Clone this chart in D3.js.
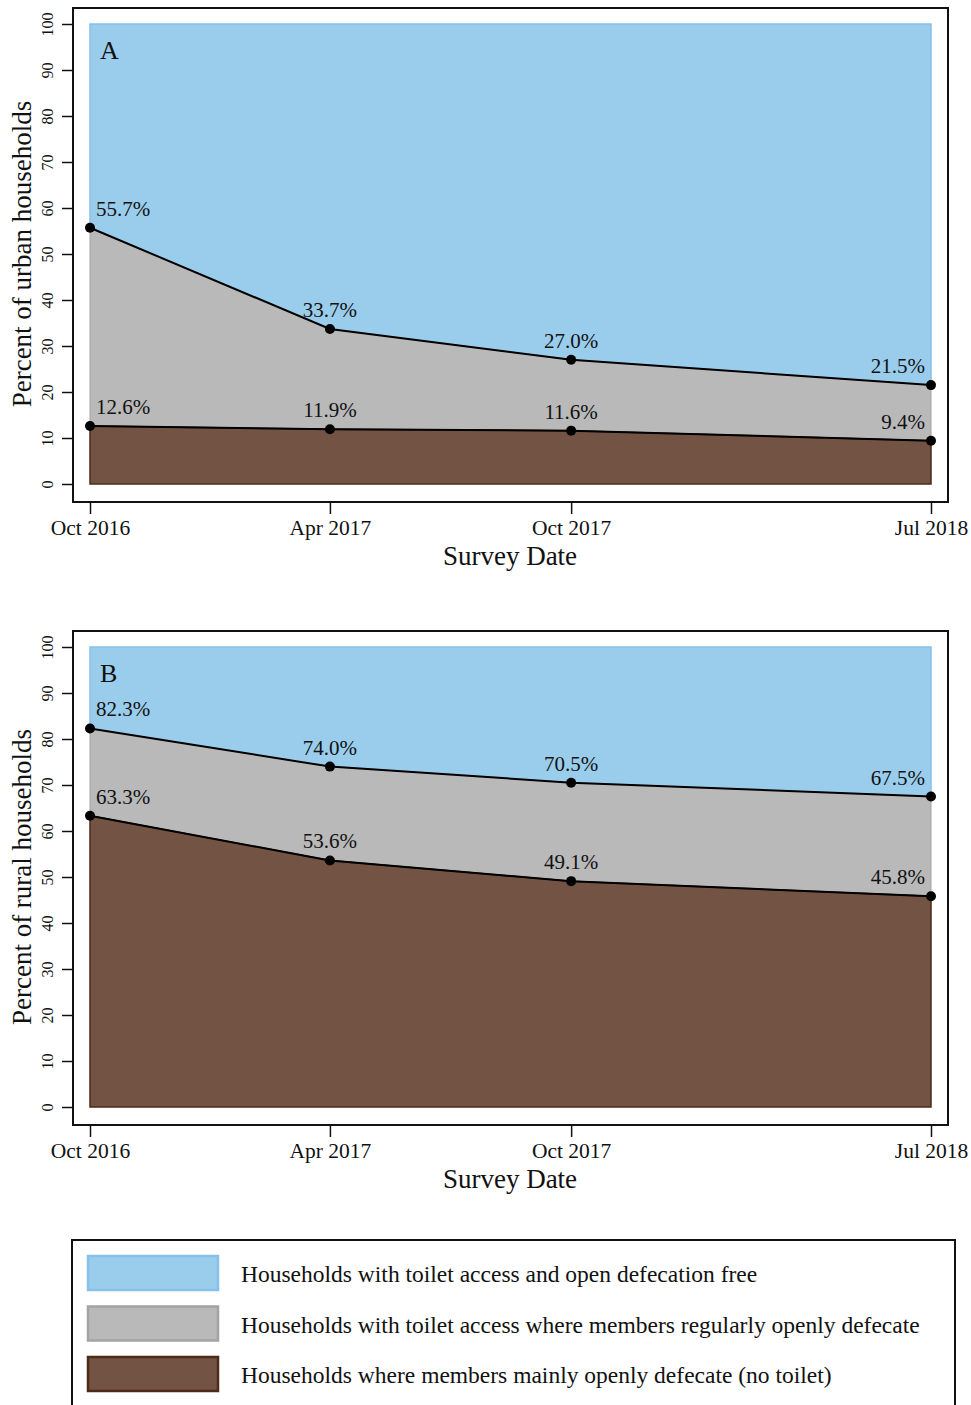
<!DOCTYPE html>
<html>
<head>
<meta charset="utf-8">
<script src="https://cdn.jsdelivr.net/npm/d3@7"></script>
<style>
  body { margin: 0; background: #fff; }
  svg text { font-family: "Liberation Serif", "Times New Roman", serif; fill: #111; }
</style>
</head>
<body>
<svg id="chart" width="971" height="1405"></svg>
<script>
// survey rounds
let surveyDates = ["2016-10-01", "2017-04-01", "2017-10-01", "2018-07-01"];
let dateLabels = ["Oct 2016", "Apr 2017", "Oct 2017", "Jul 2018"];
let yTicks = [0, 10, 20, 30, 40, 50, 60, 70, 80, 90, 100];

// urban: upper line = with toilet but open defecation + no toilet, lower = no toilet
let urbanUpper = [55.7, 33.7, 27.0, 21.5];
let urbanLower = [12.6, 11.9, 11.6, 9.4];
// rural
let ruralUpper = [82.3, 74.0, 70.5, 67.5];
let ruralLower = [63.3, 53.6, 49.1, 45.8];

let legendLabels = [
  "Households with toilet access and open defecation free",
  "Households with toilet access where members regularly openly defecate",
  "Households where members mainly openly defecate (no toilet)"
];
let fills = ["#9acdec", "#b9b9b9", "#735343"];
let strokes = ["#86c1ea", "#a3a3a3", "#4e2a18"];

let parse = d3.timeParse("%Y-%m-%d");
let dates = surveyDates.map(parse);

let svg = d3.select("#chart");

let x = d3.scaleTime()
  .domain([dates[0], dates[dates.length - 1]])
  .range([90, 931]);

function draw_panel(top, letter, ylabel, upper, lower) {
  let g = svg.append("g").attr("transform", "translate(0," + top + ")");
  let y = d3.scaleLinear().domain([0, 100]).range([476, 16]);

  // frame
  g.append("rect")
    .attr("x", 73).attr("y", 0)
    .attr("width", 875).attr("height", 494)
    .attr("fill", "none").attr("stroke", "#111").attr("stroke-width", 2);

  let rows = dates.map(function(d, i) {
    return { date: d, up: upper[i], low: lower[i] };
  });

  let areaTop = d3.area().x(d => x(d.date)).y0(d => y(d.up)).y1(() => y(100));
  let areaMid = d3.area().x(d => x(d.date)).y0(d => y(d.low)).y1(d => y(d.up));
  let areaLow = d3.area().x(d => x(d.date)).y0(() => y(0)).y1(d => y(d.low));

  g.append("path").datum(rows).attr("d", areaTop)
    .attr("fill", fills[0]).attr("stroke", strokes[0]).attr("stroke-width", 1.5);
  g.append("path").datum(rows).attr("d", areaMid)
    .attr("fill", fills[1]).attr("stroke", strokes[1]).attr("stroke-width", 1);
  g.append("path").datum(rows).attr("d", areaLow)
    .attr("fill", fills[2]).attr("stroke", strokes[2]).attr("stroke-width", 1.5);

  let line = d3.line().x(d => x(d.date));
  g.append("path").datum(rows).attr("d", line.y(d => y(d.up)))
    .attr("fill", "none").attr("stroke", "#000").attr("stroke-width", 2);
  g.append("path").datum(rows).attr("d", line.y(d => y(d.low)))
    .attr("fill", "none").attr("stroke", "#000").attr("stroke-width", 2);

  // points and value labels
  ["up", "low"].forEach(function(key) {
    g.selectAll(".pt-" + key).data(rows).enter()
      .append("circle")
      .attr("cx", d => x(d.date)).attr("cy", d => y(d[key]))
      .attr("r", 5).attr("fill", "#000");
    g.selectAll(".lab-" + key).data(rows).enter()
      .append("text")
      .attr("x", function(d, i) {
        if (i == 0) return x(d.date) + 6;
        if (i == rows.length - 1) return x(d.date) - 6;
        return x(d.date);
      })
      .attr("y", d => y(d[key]) - 12)
      .attr("text-anchor", function(d, i) {
        if (i == 0) return "start";
        if (i == rows.length - 1) return "end";
        return "middle";
      })
      .style("font-size", "21px")
      .text(d => d[key].toFixed(1) + "%");
  });

  // panel letter
  g.append("text").attr("x", 100).attr("y", 51)
    .style("font-size", "26px").text(letter);

  // y axis
  let yAxis = g.append("g").attr("transform", "translate(73,0)")
    .call(d3.axisLeft(y).tickValues(yTicks).tickSize(11).tickPadding(0));
  yAxis.select(".domain").remove();
  yAxis.selectAll("line").attr("stroke", "#111").attr("stroke-width", 1.5);
  yAxis.selectAll("text")
    .attr("x", 0).attr("y", -26).attr("dy", 0)
    .attr("transform", "rotate(-90)")
    .attr("text-anchor", "middle")
    .attr("dominant-baseline", "central")
    .style("font-size", "16px")
    .style("font-family", "Liberation Serif, serif");

  // x axis
  let xAxis = g.append("g").attr("transform", "translate(0,494)")
    .call(d3.axisBottom(x).tickValues(dates).tickSize(12).tickPadding(6)
      .tickFormat((d, i) => dateLabels[i]));
  xAxis.select(".domain").remove();
  xAxis.selectAll("line").attr("stroke", "#111").attr("stroke-width", 1.5);
  xAxis.selectAll("text")
    .style("font-size", "21.5px")
    .style("font-family", "Liberation Serif, serif")
    .attr("fill", "#111");

  g.append("text")
    .attr("x", 510).attr("y", 557)
    .attr("text-anchor", "middle")
    .style("font-size", "27px")
    .text("Survey Date");

  g.append("text")
    .attr("transform", "translate(31," + y(50) + ") rotate(-90)")
    .attr("text-anchor", "middle")
    .style("font-size", "27px")
    .text(ylabel);
}

draw_panel(8, "A", "Percent of urban households", urbanUpper, urbanLower);
draw_panel(631, "B", "Percent of rural households", ruralUpper, ruralLower);

// legend
let leg = svg.append("g");
leg.append("rect")
  .attr("x", 72).attr("y", 1240).attr("width", 883).attr("height", 200)
  .attr("fill", "none").attr("stroke", "#111").attr("stroke-width", 2);

let legY = d3.scalePoint().domain(d3.range(legendLabels.length)).range([1273, 1374]);

leg.selectAll(".sw").data(legendLabels).enter()
  .append("rect")
  .attr("x", 88).attr("y", (d, i) => legY(i) - 17)
  .attr("width", 130).attr("height", 34)
  .attr("fill", (d, i) => fills[i])
  .attr("stroke", (d, i) => strokes[i])
  .attr("stroke-width", 2.5);

leg.selectAll(".lt").data(legendLabels).enter()
  .append("text")
  .attr("x", 241).attr("y", (d, i) => legY(i) + 1)
  .attr("dominant-baseline", "central")
  .style("font-size", "23.5px")
  .text(d => d);
</script>
</body>
</html>
